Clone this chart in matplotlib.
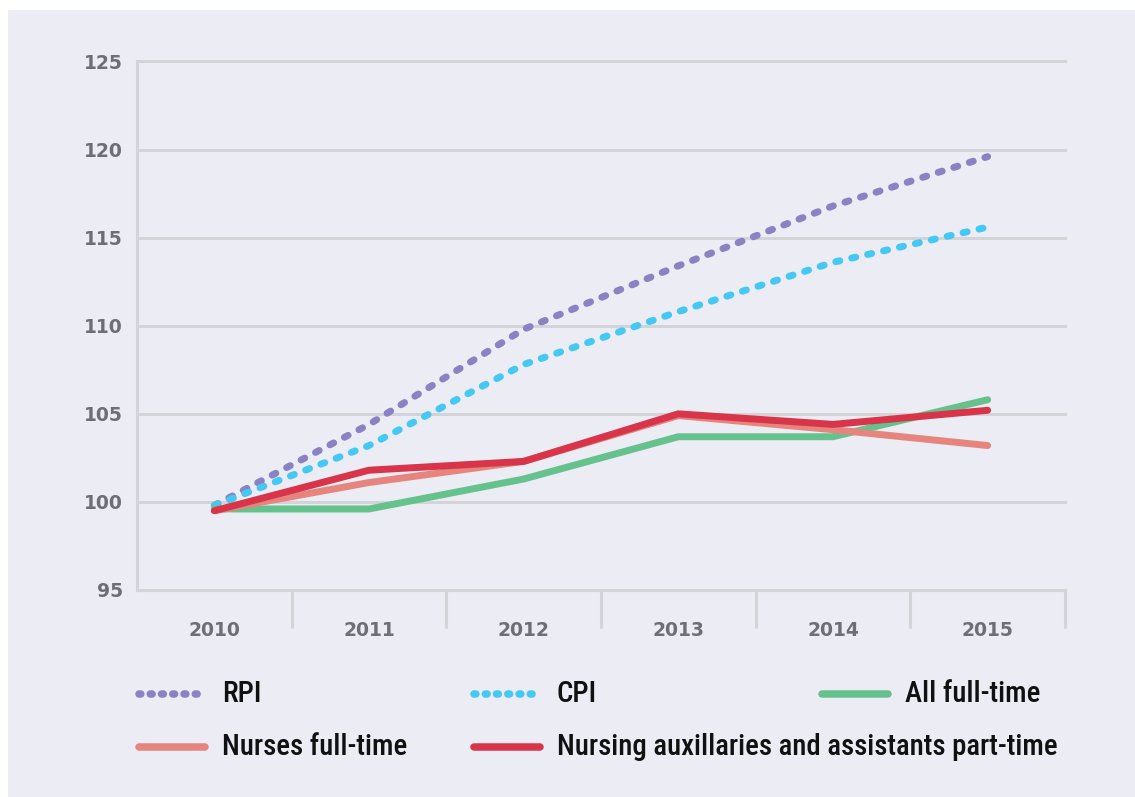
import matplotlib
matplotlib.use("Agg")
import matplotlib.pyplot as plt
from matplotlib.lines import Line2D
import numpy as np

# data (index, 2010 = 100)
years = ["2010", "2011", "2012", "2013", "2014", "2015"]
rpi = [99.8, 104.4, 109.8, 113.4, 116.8, 119.6]
cpi = [99.8, 103.2, 107.8, 110.8, 113.6, 115.6]
all_full_time = [99.6, 99.6, 101.3, 103.7, 103.7, 105.8]
nurses_full_time = [99.5, 101.1, 102.3, 104.9, 104.1, 103.2]
nursing_aux_part_time = [99.5, 101.8, 102.3, 105.0, 104.4, 105.2]

labels = ["RPI", "CPI", "All full-time", "Nurses full-time",
          "Nursing auxillaries and assistants part-time"]
colors = ["#8A82C2", "#45C9F2", "#66C28D", "#E5857D", "#D8344A"]
dotted = [True, True, False, False, False]
series = [rpi, cpi, all_full_time, nurses_full_time, nursing_aux_part_time]

BG = "#ECECF5"
GRID = "#D4D4D8"
TICK_TXT = "#6E6E74"
W, H = 1135, 797
LW = 5.0

fig = plt.figure(figsize=(W / 100, H / 100), dpi=100, facecolor=BG)
# thin white strips on top / left edge
fig.patches.append(plt.Rectangle((0, 1 - 10 / H), 1, 10 / H, transform=fig.transFigure,
                                 facecolor="white", edgecolor="none"))
fig.patches.append(plt.Rectangle((0, 0), 8 / W, 1, transform=fig.transFigure,
                                 facecolor="white", edgecolor="none"))

ax = fig.add_axes([137 / W, 1 - 590 / H, (1065 - 137) / W, (590 - 61.5) / H])
ax.set_facecolor(BG)

x = np.arange(len(years))
for vals, lab, col, dot in zip(series, labels, colors, dotted):
    if dot:
        ax.plot(x, vals, color=col, lw=LW, dashes=(0.6, 1.75),
                dash_capstyle="round", solid_capstyle="round", label=lab, zorder=3)
    else:
        ax.plot(x, vals, color=col, lw=LW, solid_capstyle="round",
                solid_joinstyle="miter", label=lab, zorder=3)

ax.set_xlim(-0.5, 5.5)
ax.set_ylim(95, 125)
ax.set_yticks(np.arange(95, 126, 5))
ax.yaxis.grid(True, color=GRID, lw=2.2)
for gl in ax.get_ygridlines():
    gl.set_clip_on(False)
ax.set_axisbelow(True)
ax.tick_params(axis="y", length=0, pad=10, labelsize=13.5, labelcolor=TICK_TXT)
for t in ax.get_yticklabels():
    t.set_fontweight("bold")
    t.set_fontfamily("DejaVu Sans")
    t.set_verticalalignment("center_baseline")

# boundaries as ticks, year labels in between
ax.set_xticks(np.arange(0.5, 5.6, 1.0))
ax.set_xticklabels([])
ax.tick_params(axis="x", which="major", length=27, width=2.2, color=GRID, direction="out")
ax.set_xticks(x, minor=True)
ax.set_xticklabels(years, minor=True)
ax.tick_params(axis="x", which="minor", length=0, pad=22, labelsize=13.5, labelcolor=TICK_TXT)
for t in ax.get_xticklabels(minor=True):
    t.set_fontweight("bold")
    t.set_fontfamily("DejaVu Sans")

for s in ["top", "right"]:
    ax.spines[s].set_visible(False)
for s in ["left", "bottom"]:
    ax.spines[s].set_color(GRID)
    ax.spines[s].set_linewidth(2.2)

# legend laid out by hand: two rows, three columns
slots = [(135, 694), (470, 694), (818, 694), (135, 747), (470, 747)]
for (px, py), lab, col, dot in zip(slots, labels, colors, dotted):
    yf = 1 - py / H
    kw = dict(dashes=(0.25, 1.25), dash_capstyle="round") if dot else dict(solid_capstyle="round")
    fig.add_artist(Line2D([(px + 4) / W, (px + 70) / W], [yf, yf], color=col, lw=LW + 0.4,
                          transform=fig.transFigure, **kw))
    fig.text((px + 87) / W, yf, lab, ha="left", va="center", fontsize=20.8,
             color="#111111", family=["Roboto Condensed", "DejaVu Sans"],
             stretch="condensed", weight="medium")

fig.savefig("out.png", dpi=100, facecolor=fig.get_facecolor())
